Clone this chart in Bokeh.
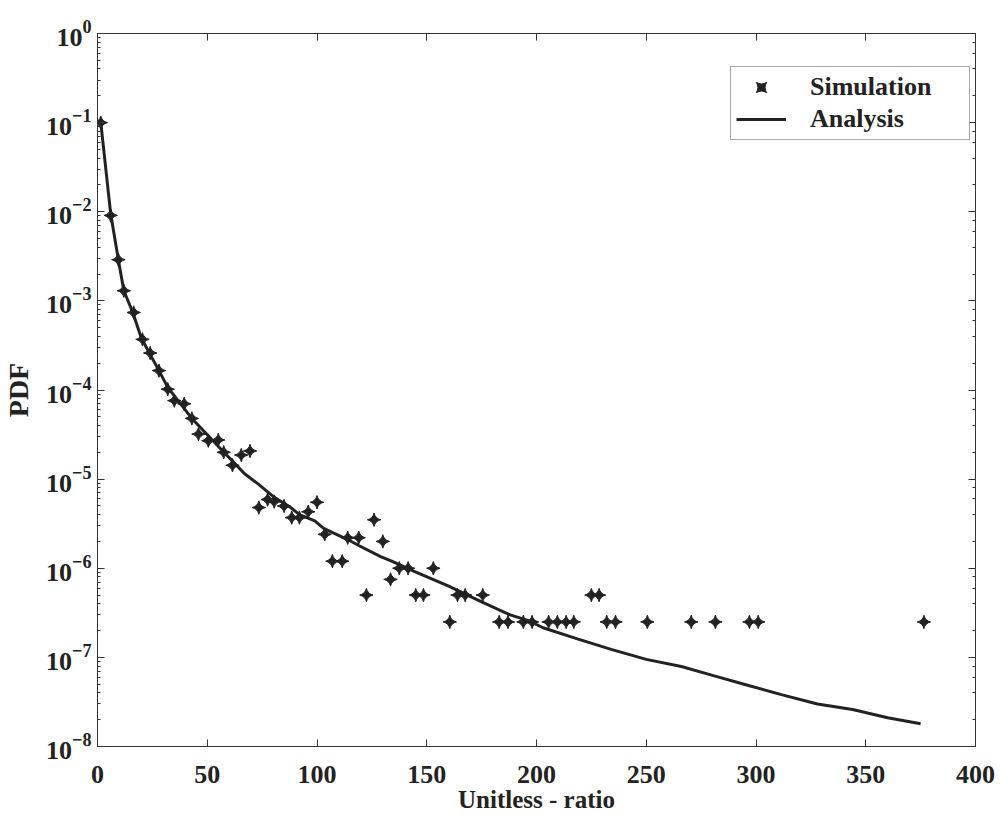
import numpy as np
from bokeh.plotting import figure
from bokeh.models import (LogAxis, LinearAxis, Legend, LegendItem,
                          FixedTicker, Range1d, ColumnDataSource, CustomJSTickFormatter)
from bokeh.embed import file_html
from bokeh.resources import INLINE

# ---- data ----
sim_x = [1.5, 6, 9.5, 12, 16.5, 20.5, 24, 28, 32, 35, 39.5, 43, 46, 50.5, 55, 57.5,
         61.5, 65.5, 69.5, 73.5, 77.5, 80.5, 85, 88.5, 92, 96, 100, 103.5, 107, 111.5,
         114, 119, 122.5, 126, 130, 133.5, 137.5, 141.5, 145, 148.5, 153, 160.5, 164,
         167.5, 175.5, 183, 187, 194, 198, 205.5, 209.5, 213.5, 217, 225, 228.5, 232,
         236, 250.5, 270.5, 281.5, 297, 301, 376.5]
sim_y = [1.0e-1, 9.1e-3, 2.9e-3, 1.3e-3, 7.4e-4, 3.7e-4, 2.6e-4, 1.65e-4, 1.02e-4,
         7.6e-5, 7.0e-5, 4.8e-5, 3.2e-5, 2.7e-5, 2.75e-5, 2.0e-5, 1.43e-5, 1.86e-5,
         2.07e-5, 4.8e-6, 5.9e-6, 5.6e-6, 5.0e-6, 3.7e-6, 3.7e-6, 4.3e-6, 5.5e-6,
         2.4e-6, 1.2e-6, 1.2e-6, 2.2e-6, 2.2e-6, 5.0e-7, 3.5e-6, 2.0e-6, 7.5e-7,
         1.0e-6, 1.0e-6, 5.0e-7, 5.0e-7, 1.0e-6, 2.5e-7, 5.0e-7, 5.0e-7, 5.0e-7,
         2.5e-7, 2.5e-7, 2.5e-7, 2.5e-7, 2.5e-7, 2.5e-7, 2.5e-7, 2.5e-7, 5.0e-7,
         5.0e-7, 2.5e-7, 2.5e-7, 2.5e-7, 2.5e-7, 2.5e-7, 2.5e-7, 2.5e-7, 2.5e-7]

ana_x = [1.5, 6, 9.5, 12, 16, 20, 28, 32, 43, 58, 62, 67, 73, 80, 88, 92, 99, 103,
         114, 119, 129, 134, 144, 160, 175, 188, 196, 203, 219, 234, 250, 266, 281,
         297, 312, 328, 344, 360, 375]
ana_y = [1.0e-1, 9.5e-3, 2.9e-3, 1.3e-3, 7.5e-4, 3.8e-4, 1.65e-4, 1.07e-4, 4.8e-5,
         1.95e-5, 1.55e-5, 1.15e-5, 8.9e-6, 6.4e-6, 4.8e-6, 4.0e-6, 3.4e-6, 2.8e-6,
         2.1e-6, 1.8e-6, 1.35e-6, 1.2e-6, 9.3e-7, 6.3e-7, 4.2e-7, 3.0e-7, 2.6e-7,
         2.15e-7, 1.6e-7, 1.23e-7, 9.5e-8, 7.9e-8, 6.2e-8, 4.8e-8, 3.8e-8, 3.0e-8,
         2.6e-8, 2.1e-8, 1.8e-8]

x_ticks = [0, 50, 100, 150, 200, 250, 300, 350, 400]
x_title = "Unitless - ratio"
y_title = "PDF"

FONT = "Liberation Serif"
INK = "#222222"
AX = "#333333"

p = figure(width=1000, height=815, x_range=Range1d(0, 400), y_range=Range1d(1e-8, 1),
           y_axis_type="log", output_backend="svg", toolbar_location=None,
           min_border_left=95, min_border_right=25, min_border_top=33, min_border_bottom=69)
p.xgrid.visible = False
p.ygrid.visible = False
p.outline_line_color = AX
p.background_fill_color = "white"


def style_axis(ax, labels=True):
    ax.axis_line_color = AX
    ax.major_tick_line_color = AX
    ax.minor_tick_line_color = AX
    ax.major_tick_in = 7
    ax.major_tick_out = 0
    ax.minor_tick_in = 3
    ax.minor_tick_out = 0
    ax.major_label_text_font = FONT
    ax.major_label_text_font_style = "bold"
    ax.major_label_text_font_size = "26px"
    ax.major_label_text_color = INK
    ax.axis_label_text_font = FONT
    ax.axis_label_text_font_style = "bold"
    ax.axis_label_text_color = INK
    if not labels:
        ax.formatter = CustomJSTickFormatter(code="return ''")
        ax.major_label_standoff = 0


# bottom x axis
xa = p.xaxis[0]
xa.ticker = FixedTicker(ticks=x_ticks)
style_axis(xa)
xa.minor_tick_line_color = None
xa.major_label_standoff = 19
xa.axis_label = x_title
xa.axis_label_text_font_size = "25px"
xa.axis_label_standoff = 0

# left y axis
ya = p.yaxis[0]
style_axis(ya)
ya.major_label_standoff = 6
ya.axis_label = y_title
ya.axis_label_text_font_size = "28px"
ya.axis_label_standoff = 9

# mirrored axes
top = LinearAxis(ticker=FixedTicker(ticks=x_ticks))
style_axis(top, labels=False)
top.minor_tick_line_color = None
p.add_layout(top, "above")
right = LogAxis()
style_axis(right, labels=False)
p.add_layout(right, "right")

src_sim = ColumnDataSource(dict(x=sim_x, y=sim_y))
src_ana = ColumnDataSource(dict(x=ana_x, y=ana_y))

ln = p.line("x", "y", source=src_ana, line_color=INK, line_width=3)
sc = p.scatter("x", "y", source=src_sim, marker="square_pin", size=9.5,
               angle=np.pi / 4, fill_color=INK, line_color=INK, line_width=1)

legend = Legend(items=[LegendItem(label="Simulation", renderers=[sc]),
                       LegendItem(label="Analysis", renderers=[ln])],
                location=(633, 606))
legend.label_text_font = FONT
legend.label_text_font_style = "bold"
legend.label_text_font_size = "26px"
legend.label_text_color = INK
legend.border_line_color = "#555555"
legend.border_line_width = 1
legend.padding = 5
legend.spacing = 2
legend.glyph_width = 50
legend.glyph_height = 26
legend.label_height = 26
legend.label_standoff = 24
legend.label_width = 154
legend.margin = 0
legend.background_fill_alpha = 1
p.add_layout(legend)

open("out.html", "w").write(file_html(p, INLINE))
